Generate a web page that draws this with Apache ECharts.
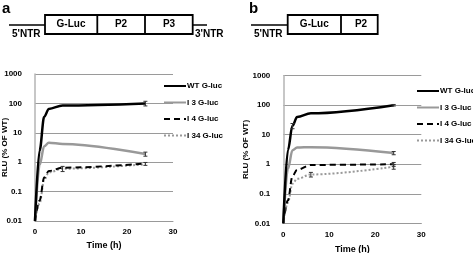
<!DOCTYPE html>
<html><head><meta charset="utf-8">
<script src="https://cdn.jsdelivr.net/npm/echarts@6/dist/echarts.min.js"></script>
<style>html,body{margin:0;padding:0;background:#fff;}#a,#b{position:absolute;top:0;height:253px;}#a{left:0;width:236px;}#b{left:236px;width:237px;}</style>
</head><body><div id="a"></div><div id="b"></div>
<script>
// ---- data ----
const names = ['WT G-luc', 'I 3 G-luc', 'I 4 G-luc', 'I 34 G-luc'];
const yTicks = ['0.01', '0.1', '1', '10', '100', '1000'];
const xTicks = [0, 10, 20, 30];
const timeA = [0, 1, 2, 3, 6, 24];
const wtA   = [0.01, 2.5, 35, 65, 85, 100];
const i3A   = [0.01, 0.8, 3.5, 4.6, 4.2, 1.9];
const i4A   = [0.01, 0.05, 0.3, 0.5, 0.65, 0.9];
const i34A  = [0.01, 0.04, 0.25, 0.45, 0.6, 0.85];
const errA  = [[24, 100, 18], [24, 1.9, 0.3], [6, 0.6, 0.12], [24, 0.88, 0.1]];
const timeB = [0, 1, 2, 3, 6, 24];
const wtB   = [0.01, 3, 20, 40, 53, 100];
const i3B   = [0.01, 0.7, 3, 3.7, 3.8, 2.4];
const i4B   = [0.01, 0.06, 0.4, 0.65, 0.95, 1.0];
const i34B  = [0.01, 0.05, 0.22, 0.32, 0.45, 0.83];
const errB  = [[2, 20, 4], [24, 100, 6], [24, 2.4, 0.3], [24, 1.0, 0.15], [6, 0.45, 0.08], [24, 0.83, 0.15]];

const FONT = 'Liberation Sans, Arial, sans-serif';
const styles = [
  {color: '#000', width: 2.5, type: 'solid'},
  {color: '#999', width: 2.5, type: 'solid'},
  {color: '#000', width: 2, type: [6, 4]},
  {color: '#999', width: 2, type: [2, 2]}
];

function pairs(t, v) { return t.map((x, i) => [x, v[i]]); }

function errItem(params, api) {
  const x = api.value(0), y = api.value(1), e = api.value(2);
  const top = api.coord([x, y + e]);
  const bot = api.coord([x, Math.max(y - e, 0.0101)]);
  const c = 2;
  const st = {stroke: '#333', lineWidth: 1};
  return {type: 'group', children: [
    {type: 'line', shape: {x1: top[0], y1: top[1], x2: bot[0], y2: bot[1]}, style: st},
    {type: 'line', shape: {x1: top[0] - c, y1: top[1], x2: top[0] + c, y2: top[1]}, style: st},
    {type: 'line', shape: {x1: bot[0] - c, y1: bot[1], x2: bot[0] + c, y2: bot[1]}, style: st}
  ]};
}

function diagramText(x, y, s, align) {
  return {type: 'text', x: x, y: y, style: {text: s, fill: '#000', font: 'bold 10px ' + FONT, align: align || 'center', verticalAlign: 'middle'}};
}

function makeOption(cfg) {
  const seriesVals = cfg.vals;
  const series = seriesVals.map((v, i) => ({
    name: names[i], type: 'line', data: pairs(cfg.time, v), symbol: 'none',
    smooth: 0.35, smoothMonotone: 'x', lineStyle: styles[i], itemStyle: {color: styles[i].color},
    z: 10 - i, animation: false
  }));
  series.push({type: 'custom', data: cfg.err, renderItem: errItem, z: 20, animation: false, silent: true});
  return {
    animation: false,
    grid: {left: cfg.grid[0], top: cfg.grid[1], width: cfg.grid[2], height: cfg.grid[3],
      containLabel: false, outerBoundsMode: 'none'},
    xAxis: {type: 'value', min: xTicks[0], max: xTicks[xTicks.length - 1], interval: 10,
      name: 'Time (h)', nameLocation: 'middle', nameGap: cfg.xGap, nameMoveOverlap: false,
      nameTextStyle: {fontFamily: FONT, fontWeight: 'bold', fontSize: 9, color: '#000'},
      axisLine: {lineStyle: {color: '#999', width: 1}}, axisTick: {show: false},
      axisLabel: {fontFamily: FONT, fontWeight: 'bold', fontSize: 8, color: '#000', margin: 7},
      splitLine: {show: false}},
    yAxis: {type: 'log', logBase: 10, min: 0.01, max: 1000,
      name: 'RLU (% OF WT)', nameLocation: 'middle', nameGap: cfg.yGap, nameMoveOverlap: false,
      nameTextStyle: {fontFamily: FONT, fontWeight: 'bold', fontSize: 8, color: '#000'},
      axisLine: {show: true, lineStyle: {color: '#b5b5b5', width: 1.5}}, axisTick: {show: false},
      axisLabel: {fontFamily: FONT, fontWeight: 'bold', fontSize: 8, color: '#000', margin: 13,
        formatter: v => { const k = Math.round(Math.log10(v)) + 2; return yTicks[k] !== undefined ? yTicks[k] : ''; }},
      splitLine: {show: true, lineStyle: {color: '#9a9a9a', width: 1}}},
    legend: {orient: 'vertical', left: cfg.legend[0], top: cfg.legend[1], itemWidth: 22, itemHeight: 8,
      itemGap: 8.5, padding: 0, data: names,
      itemStyle: {color: 'transparent', borderColor: 'transparent', borderWidth: 0, opacity: 0},
      textStyle: {fontFamily: FONT, fontWeight: 'bold', fontSize: 8, color: '#000', padding: [0, 0, 0, -4]}},
    graphic: cfg.graphic,
    series: series
  };
}

// ---- chart a ----
const gA = [
  {type: 'text', x: 2, y: 9, style: {text: 'a', fill: '#000', font: 'bold 15px ' + FONT, verticalAlign: 'middle'}},
  {type: 'line', shape: {x1: 9, y1: 25, x2: 45, y2: 25}, style: {stroke: '#000', lineWidth: 1.5}},
  {type: 'line', shape: {x1: 192.7, y1: 25, x2: 207, y2: 25}, style: {stroke: '#000', lineWidth: 1.5}},
  {type: 'rect', shape: {x: 45, y: 15, width: 147.7, height: 19}, style: {stroke: '#000', fill: '#fff', lineWidth: 1.8}},
  {type: 'line', shape: {x1: 97.3, y1: 15, x2: 97.3, y2: 34}, style: {stroke: '#000', lineWidth: 1.8}},
  {type: 'line', shape: {x1: 145, y1: 15, x2: 145, y2: 34}, style: {stroke: '#000', lineWidth: 1.8}},
  diagramText(71, 24.5, 'G-Luc'), diagramText(121, 24.5, 'P2'), diagramText(169, 24.5, 'P3'),
  diagramText(12, 34.5, "5'NTR", 'left'), diagramText(195, 34.5, "3'NTR", 'left')
];
const chartA = echarts.init(document.getElementById('a'), null, {renderer: 'canvas'});
chartA.setOption(makeOption({time: timeA, vals: [wtA, i3A, i4A, i34A], err: errA,
  grid: [35, 74, 138, 147], legend: [163, 82], graphic: gA, xGap: 20, yGap: 26.5}));

// ---- chart b ----
const gB = [
  {type: 'text', x: 13, y: 8.5, style: {text: 'b', fill: '#000', font: 'bold 15px ' + FONT, verticalAlign: 'middle'}},
  {type: 'line', shape: {x1: 15, y1: 25, x2: 51.7, y2: 25}, style: {stroke: '#000', lineWidth: 1.5}},
  {type: 'rect', shape: {x: 51.7, y: 15, width: 90, height: 19}, style: {stroke: '#000', fill: '#fff', lineWidth: 1.8}},
  {type: 'line', shape: {x1: 105, y1: 15, x2: 105, y2: 34}, style: {stroke: '#000', lineWidth: 1.8}},
  diagramText(78.3, 24.5, 'G-Luc'), diagramText(125, 24.5, 'P2'),
  diagramText(18, 34.5, "5'NTR", 'left')
];
const chartB = echarts.init(document.getElementById('b'), null, {renderer: 'canvas'});
chartB.setOption(makeOption({time: timeB, vals: [wtB, i3B, i4B, i34B], err: errB,
  grid: [47.3, 75.7, 138, 147.6], legend: [180, 87], graphic: gB, xGap: 22, yGap: 34}));
</script></body></html>
